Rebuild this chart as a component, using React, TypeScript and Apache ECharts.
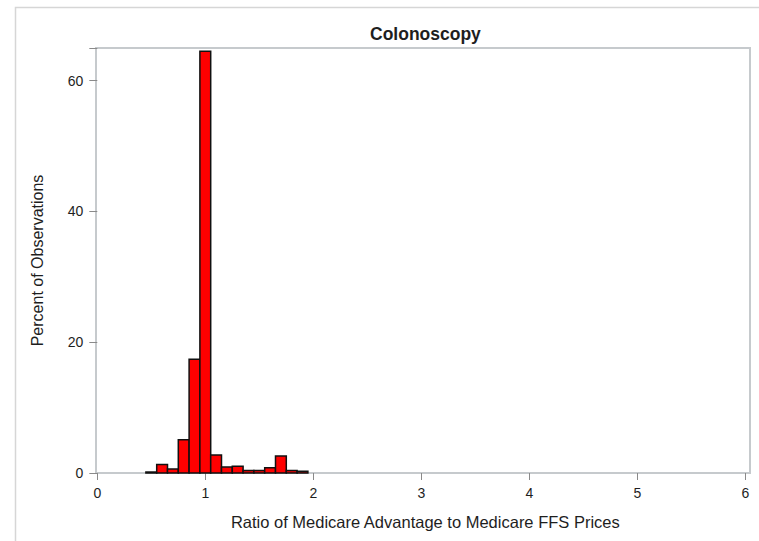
import * as echarts from 'echarts';
import { useEffect, useRef } from 'react';

// Histogram bins (midpoints, width 0.1) and percent of observations
const BIN_WIDTH = 0.1;
const binMidpoints = [0.5, 0.6, 0.7, 0.8, 0.9, 1.0, 1.1, 1.2, 1.3, 1.4, 1.5, 1.6, 1.7, 1.8, 1.9];
const percents = [0.15, 1.3, 0.6, 5.1, 17.4, 64.5, 2.75, 0.9, 1.05, 0.4, 0.4, 0.8, 2.6, 0.4, 0.25];

const xTicks = [0, 1, 2, 3, 4, 5, 6];
const yTicks = [0, 20, 40, 60];

const FONT = '"Liberation Sans", Arial, sans-serif';
const TEXT = '#1e1e1e';
const FRAME = '#c6cacd';

export default function App() {
  const chartRef = useRef<HTMLDivElement>(null);

  useEffect(() => {
    if (!chartRef.current) return;
    document.body.style.margin = '0';
    const chart = echarts.init(chartRef.current, null, { renderer: 'svg' });

    chart.setOption({
      animation: false,
      backgroundColor: '#fff',
      title: {
        text: 'Colonoscopy',
        left: 365,
        top: 20,
        textStyle: { fontFamily: FONT, fontSize: 17.5, fontWeight: 'bold', color: TEXT }
      },
      grid: { left: 97.3, right: 13.7, top: 48, bottom: 68, containLabel: false },
      graphic: [
        // outer border of the image
        {
          type: 'rect',
          shape: { x: 15.5, y: 7.5, width: 800, height: 600 },
          style: { fill: 'none', stroke: '#d6d6d6', lineWidth: 1.5 },
          silent: true
        },
        // plot frame
        {
          type: 'rect',
          shape: { x: 96, y: 48, width: 654, height: 425 },
          style: { fill: 'none', stroke: FRAME, lineWidth: 2 },
          z: 0,
          silent: true
        }
      ],
      xAxis: {
        type: 'value',
        min: xTicks[0],
        max: xTicks[xTicks.length - 1],
        interval: 1,
        name: 'Ratio of Medicare Advantage to Medicare FFS Prices',
        nameLocation: 'middle',
        nameGap: 40,
        nameTextStyle: { fontFamily: FONT, fontSize: 16.5, color: TEXT, padding: [0, 0, 0, 8] },
        axisLine: { show: false },
        axisTick: { show: true, length: 7, lineStyle: { color: '#8a8a8a' } },
        axisLabel: { margin: 13, fontFamily: FONT, fontSize: 14, color: TEXT },
        splitLine: { show: false }
      },
      yAxis: {
        type: 'value',
        min: 0,
        max: 65,
        interval: 20,
        name: 'Percent of Observations',
        nameLocation: 'middle',
        nameGap: 52,
        nameTextStyle: { fontFamily: FONT, fontSize: 16, color: TEXT },
        axisLine: { show: false },
        axisTick: { show: true, length: 8, lineStyle: { color: '#8a8a8a' } },
        axisLabel: {
          margin: 14,
          fontFamily: FONT,
          fontSize: 14,
          color: TEXT,
          formatter: (v: number) => (yTicks.includes(v) ? String(v) : '')
        },
        splitLine: { show: false }
      },
      series: [
        {
          type: 'custom',
          z: 5,
          renderItem: (_params: any, api: any) => {
            const mid = api.value(0);
            const val = api.value(1);
            const topLeft = api.coord([mid - BIN_WIDTH / 2, val]);
            const bottomRight = api.coord([mid + BIN_WIDTH / 2, 0]);
            return {
              type: 'rect',
              shape: {
                x: topLeft[0],
                y: topLeft[1],
                width: bottomRight[0] - topLeft[0],
                height: bottomRight[1] - topLeft[1]
              },
              style: { fill: '#ff0000', stroke: '#111', lineWidth: 1.5 }
            };
          },
          data: binMidpoints.map((m, i) => [m, percents[i]])
        }
      ]
    });

    return () => {
      chart.dispose();
    };
  }, []);

  return <div ref={chartRef} style={{ width: 759, height: 541 }} />;
}
